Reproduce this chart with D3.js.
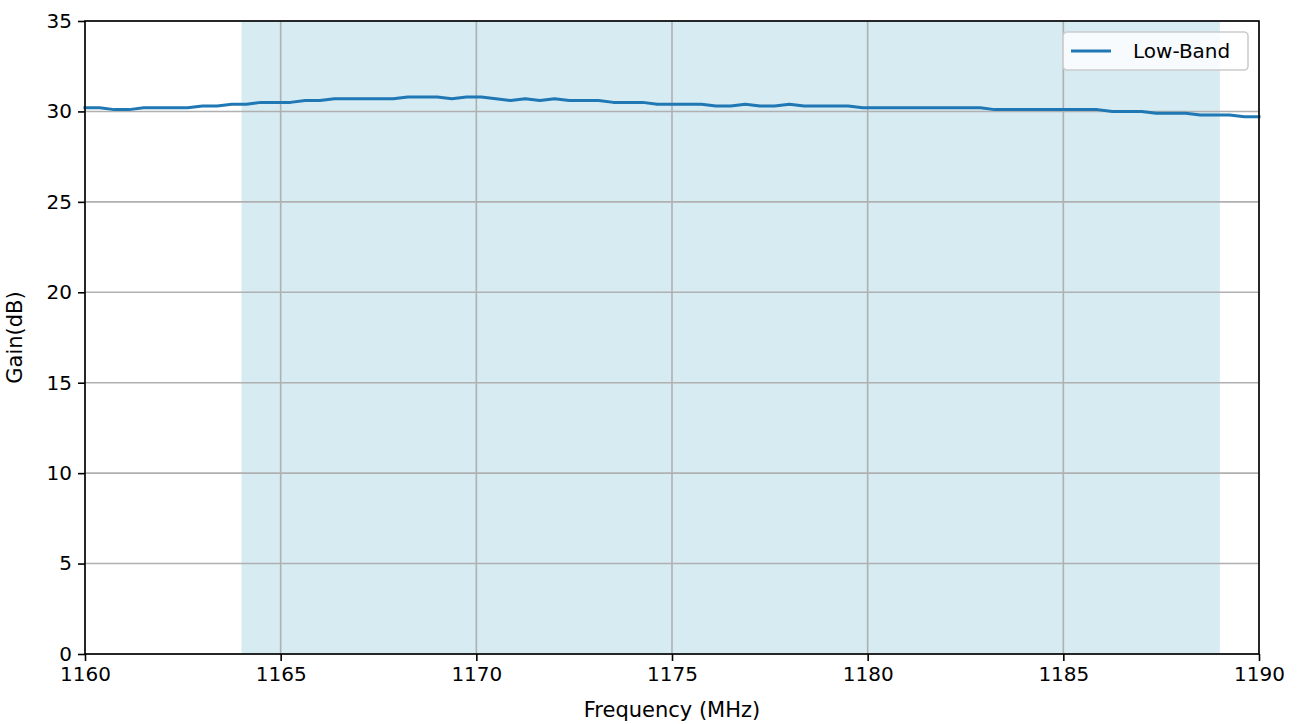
<!DOCTYPE html>
<html>
<head>
<meta charset="utf-8">
<script src="https://cdn.jsdelivr.net/npm/d3@7"></script>
<style>
  body { margin: 0; background: #fff; }
  svg { font-family: "DejaVu Sans", sans-serif; }
</style>
</head>
<body>
<svg id="chart" width="1301" height="724"></svg>
<script>
// frequency samples (MHz), 0.375 MHz apart
const freqs = [
  1160.000, 1160.375, 1160.750, 1161.125, 1161.500, 1161.875, 1162.250, 1162.625, 1163.000,
  1163.375, 1163.750, 1164.125, 1164.500, 1164.875, 1165.250, 1165.625, 1166.000, 1166.375,
  1166.750, 1167.125, 1167.500, 1167.875, 1168.250, 1168.625, 1169.000, 1169.375, 1169.750,
  1170.125, 1170.500, 1170.875, 1171.250, 1171.625, 1172.000, 1172.375, 1172.750, 1173.125,
  1173.500, 1173.875, 1174.250, 1174.625, 1175.000, 1175.375, 1175.750, 1176.125, 1176.500,
  1176.875, 1177.250, 1177.625, 1178.000, 1178.375, 1178.750, 1179.125, 1179.500, 1179.875,
  1180.250, 1180.625, 1181.000, 1181.375, 1181.750, 1182.125, 1182.500, 1182.875, 1183.250,
  1183.625, 1184.000, 1184.375, 1184.750, 1185.125, 1185.500, 1185.875, 1186.250, 1186.625,
  1187.000, 1187.375, 1187.750, 1188.125, 1188.500, 1188.875, 1189.250, 1189.625, 1190.000
];
const gainLow = [
  30.2, 30.2, 30.1, 30.1, 30.2, 30.2, 30.2, 30.2, 30.3,
  30.3, 30.4, 30.4, 30.5, 30.5, 30.5, 30.6, 30.6, 30.7,
  30.7, 30.7, 30.7, 30.7, 30.8, 30.8, 30.8, 30.7, 30.8,
  30.8, 30.7, 30.6, 30.7, 30.6, 30.7, 30.6, 30.6, 30.6,
  30.5, 30.5, 30.5, 30.4, 30.4, 30.4, 30.4, 30.3, 30.3,
  30.4, 30.3, 30.3, 30.4, 30.3, 30.3, 30.3, 30.3, 30.2,
  30.2, 30.2, 30.2, 30.2, 30.2, 30.2, 30.2, 30.2, 30.1,
  30.1, 30.1, 30.1, 30.1, 30.1, 30.1, 30.1, 30.0, 30.0,
  30.0, 29.9, 29.9, 29.9, 29.8, 29.8, 29.8, 29.7, 29.7
];
const band = [1164, 1189];
const xTicks = [1160, 1165, 1170, 1175, 1180, 1185, 1190];
const yTicks = [0, 5, 10, 15, 20, 25, 30, 35];
const seriesName = "Low-Band";

const svg = d3.select("#chart");
const m = { left: 85, right: 1259, top: 21, bottom: 654 };

const x = d3.scaleLinear().domain([1160, 1190]).range([m.left, m.right]);
const y = d3.scaleLinear().domain([0, 35]).range([m.bottom, m.top]);

// shaded band
svg.append("rect")
    .attr("x", x(band[0]))
    .attr("y", m.top)
    .attr("width", x(band[1]) - x(band[0]))
    .attr("height", m.bottom - m.top)
    .attr("fill", "#add8e6")
    .attr("fill-opacity", 0.5);

// grid
let grid = svg.append("g").attr("stroke", "#b0b0b0").attr("stroke-width", 1.6);
grid.selectAll(".gx").data(xTicks).join("line")
    .attr("x1", d => x(d)).attr("x2", d => x(d))
    .attr("y1", m.top).attr("y2", m.bottom);
grid.selectAll(".gy").data(yTicks).join("line")
    .attr("y1", d => y(d)).attr("y2", d => y(d))
    .attr("x1", m.left).attr("x2", m.right);

// data line
svg.append("path")
    .datum(freqs.map((f, i) => [f, gainLow[i]]))
    .attr("fill", "none")
    .attr("stroke", "#1f77b4")
    .attr("stroke-width", 3)
    .attr("stroke-linejoin", "round")
    .attr("stroke-linecap", "square")
    .attr("d", d3.line().x(d => x(d[0])).y(d => y(d[1])));

// axes
let xAxis = svg.append("g")
    .attr("transform", `translate(0,${m.bottom})`)
    .call(d3.axisBottom(x).tickValues(xTicks).tickSize(7).tickPadding(6).tickFormat(d3.format("d")));
let yAxis = svg.append("g")
    .attr("transform", `translate(${m.left},0)`)
    .call(d3.axisLeft(y).tickValues(yTicks).tickSize(7).tickPadding(6));

[xAxis, yAxis].forEach(a => {
    a.select(".domain").remove();
    a.selectAll(".tick line").attr("stroke", "#000").attr("stroke-width", 1.6);
    a.selectAll(".tick text").attr("fill", "#000").style("font-size", "20px")
        .style("font-family", "DejaVu Sans");
});

// frame
svg.append("rect")
    .attr("x", m.left).attr("y", m.top)
    .attr("width", m.right - m.left).attr("height", m.bottom - m.top)
    .attr("fill", "none").attr("stroke", "#000").attr("stroke-width", 1.6);

// axis labels
svg.append("text")
    .attr("x", (m.left + m.right) / 2).attr("y", 717)
    .attr("text-anchor", "middle").style("font-size", "21px")
    .text("Frequency (MHz)");
svg.append("text")
    .attr("transform", `translate(22,${(m.top + m.bottom) / 2}) rotate(-90)`)
    .attr("text-anchor", "middle").style("font-size", "21px")
    .text("Gain(dB)");

// legend
let lg = svg.append("g").attr("transform", "translate(1063,32)");
lg.append("rect")
    .attr("width", 185).attr("height", 38).attr("rx", 4)
    .attr("fill", "#fff").attr("fill-opacity", 0.8)
    .attr("stroke", "#cccccc").attr("stroke-width", 1.6);
lg.append("line")
    .attr("x1", 8).attr("x2", 48).attr("y1", 19).attr("y2", 19)
    .attr("stroke", "#1f77b4").attr("stroke-width", 3);
lg.append("text")
    .attr("x", 70).attr("y", 26).style("font-size", "20px")
    .text(seriesName);
</script>
</body>
</html>
